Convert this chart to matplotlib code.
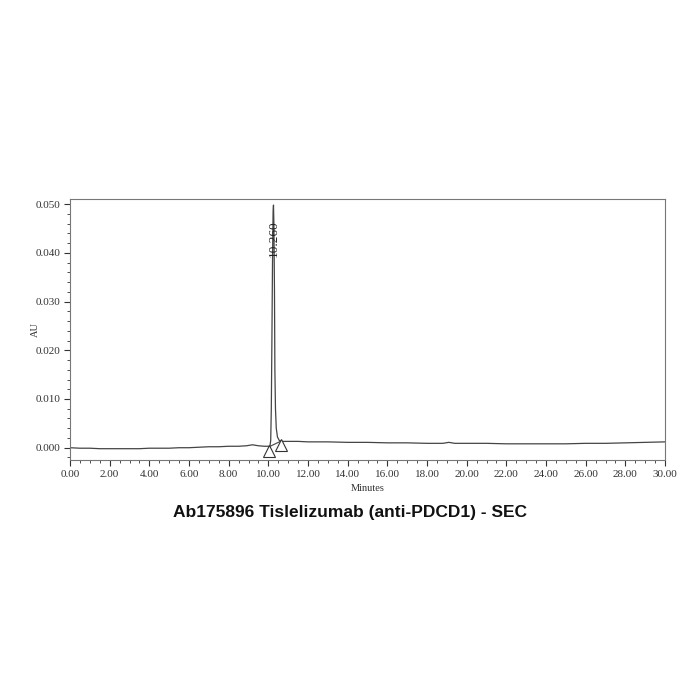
import matplotlib
matplotlib.use("Agg")
import matplotlib.pyplot as plt
from matplotlib.ticker import MultipleLocator, FormatStrFormatter

# chromatogram trace (minutes, AU)
time_min = [0.0, 0.5, 1.0, 1.5, 2.0, 2.5, 3.0, 3.5, 4.0, 4.5, 5.0, 5.5, 6.0,
            6.5, 7.0, 7.5, 8.0, 8.5, 8.9, 9.2, 9.5, 9.8, 10.0, 10.08, 10.12,
            10.15, 10.18, 10.21, 10.24, 10.26, 10.28, 10.31, 10.33, 10.36,
            10.40, 10.46, 10.55, 10.65, 10.8, 11.0, 11.5, 12.0, 13.0, 14.0,
            15.0, 16.0, 17.0, 18.0, 18.8, 19.1, 19.4, 20.0, 21.0, 22.0, 23.0,
            24.0, 25.0, 26.0, 27.0, 28.0, 29.0, 30.0]
signal_au = [0.0000, -0.0001, -0.0001, -0.0002, -0.0002, -0.0002, -0.0002,
             -0.0002, -0.0001, -0.0001, -0.0001, 0.0000, 0.0000, 0.0001,
             0.0002, 0.0002, 0.0003, 0.0003, 0.0004, 0.0006, 0.0004, 0.0003,
             0.0003, 0.0003, 0.0015, 0.0080, 0.0220, 0.0380, 0.0485, 0.0498,
             0.0460, 0.0320, 0.0160, 0.0080, 0.0040, 0.0022, 0.0015, 0.0013,
             0.0013, 0.0013, 0.0013, 0.0012, 0.0012, 0.0011, 0.0011, 0.0010,
             0.0010, 0.0009, 0.0009, 0.0011, 0.0009, 0.0009, 0.0009, 0.0008,
             0.0008, 0.0008, 0.0008, 0.0009, 0.0009, 0.0010, 0.0011, 0.0012]

peak_rt = 10.26
peak_label = "10.260"
# integration baseline / peak start and end marks
int_x = [10.04, 10.66]
int_y = [0.0002, 0.0014]
mark_x = [10.04, 10.66]
mark_y = [-0.0007, 0.0005]

title = "Ab175896 Tislelizumab (anti-PDCD1) - SEC"

fig = plt.figure(figsize=(7, 7), dpi=100)
ax = fig.add_axes([0.1, 0.343, 0.85, 0.3724])

ax.plot(time_min, signal_au, color="#444444", lw=0.9)
ax.plot(int_x, int_y, color="#444444", lw=0.8)
ax.plot(mark_x, mark_y, ls="none", marker="^", ms=8, mfc="white",
        mec="#333333", mew=0.8)
ax.text(peak_rt, 0.0428, peak_label, rotation=90, ha="center", va="center",
        fontsize=9.5, family="Liberation Serif", color="#222222")

ax.set_xlim(0, 30)
ax.set_ylim(-0.0025, 0.051)
ax.xaxis.set_major_locator(MultipleLocator(2))
ax.xaxis.set_minor_locator(MultipleLocator(0.5))
ax.yaxis.set_major_locator(MultipleLocator(0.01))
ax.yaxis.set_minor_locator(MultipleLocator(0.002))
ax.xaxis.set_major_formatter(FormatStrFormatter("%.2f"))
ax.yaxis.set_major_formatter(FormatStrFormatter("%.3f"))
ax.tick_params(which="major", length=4, width=0.8, labelsize=8,
               colors="#333333", pad=3)
ax.tick_params(which="minor", length=2, width=0.6, colors="#333333")
for lab in ax.get_xticklabels() + ax.get_yticklabels():
    lab.set_family("Liberation Serif")
for s in ax.spines.values():
    s.set_color("#777777")
    s.set_linewidth(0.8)

ax.set_xlabel("Minutes", fontsize=7.5, family="Liberation Serif",
              color="#333333", labelpad=4)
ax.set_ylabel("AU", fontsize=7.5, family="Liberation Serif",
              color="#333333", labelpad=-3)

fig.text(0.5, 0.268, title, ha="center", va="center", fontsize=12.5,
         fontweight="bold", family="Liberation Sans", color="#111111")

fig.savefig("out.png", dpi=100, facecolor="white")
